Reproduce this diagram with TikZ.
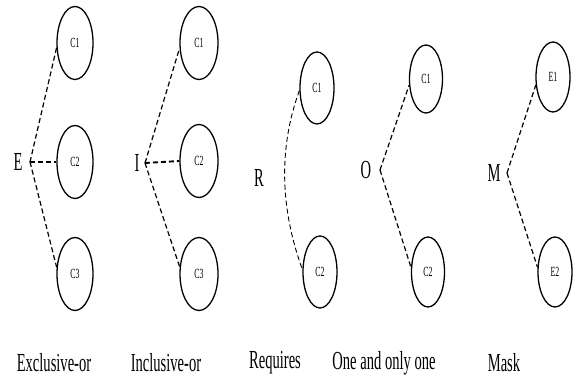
\documentclass[tikz,border=0pt]{standalone}
\usepackage{fontspec}
\usepackage{graphicx}
\setmainfont{Liberation Serif}
\usetikzlibrary{shapes.geometric}
\newcommand\cnd[1]{\scalebox{0.56}[1]{#1}}
\tikzset{
  feat/.style={ellipse, draw=black, line width=1.3pt, inner sep=0pt, minimum width=36pt, minimum height=73pt, font=\fontsize{14}{14}\selectfont},
  lbl/.style={inner sep=0pt, font=\fontsize{26}{26}\selectfont},
  captxt/.style={inner sep=0pt, font=\fontsize{26}{26}\selectfont},
  conn/.style={draw=black, line width=1.2pt, dash pattern=on 5pt off 3pt}
}
\begin{document}
\begin{tikzpicture}[x=1pt,y=1pt]
\useasboundingbox (0,0) rectangle (576,385);
% Exclusive-or
\node[lbl] (el) at (18,223) {\cnd{E}};
\coordinate (ev) at (30,223);
\node[feat] (e1) at (75,342) {\cnd{C1}};
\node[feat] (e2) at (75,223) {\cnd{C2}};
\node[feat] (e3) at (75,111) {\cnd{C3}};
\draw[conn] (ev) -- (e1.195);
\draw[conn, line width=1.6pt] (ev) -- (e2.west);
\draw[conn] (ev) -- (e3.160);
% Inclusive-or
\node[lbl] (il) at (137,222) {\cnd{I}};
\coordinate (iv) at (145,222);
\node[feat, minimum width=38pt] (i1) at (199,342) {\cnd{C1}};
\node[feat, minimum width=38pt] (i2) at (199,224) {\cnd{C2}};
\node[feat, minimum width=38pt] (i3) at (199,111) {\cnd{C3}};
\draw[conn] (iv) -- (i1.195);
\draw[conn, line width=1.9pt] (iv) -- (i2.west);
\draw[conn] (iv) -- (i3.160);
% Requires
\node[lbl] (rl) at (259,207) {\cnd{R}};
\node[feat, minimum width=34pt, minimum height=72pt] (r1) at (317,297) {\cnd{C1}};
\node[feat, minimum width=34pt, minimum height=72pt] (r2) at (320,113) {\cnd{C2}};
\draw[conn, line width=0.9pt] (r1.188) to[out=250, in=110, looseness=0.9] (r2.172);
% One and only one
\node[lbl] (ol) at (366,215) {\cnd{O}};
\coordinate (ov) at (380,215);
\node[feat, minimum width=33pt, minimum height=68pt] (o1) at (426,306) {\cnd{C1}};
\node[feat, minimum width=33pt, minimum height=70pt] (o2) at (428,113) {\cnd{C2}};
\draw[conn] (ov) -- (o1.200);
\draw[conn] (ov) -- (o2.165);
% Mask
\node[lbl] (ml) at (494,212) {\cnd{M}};
\coordinate (mv) at (507,212);
\node[feat, minimum width=34pt, minimum height=70pt] (m1) at (553,308) {\cnd{E1}};
\node[feat, minimum width=34pt, minimum height=70pt] (m2) at (555,113) {\cnd{E2}};
\draw[conn] (mv) -- (m1.205);
\draw[conn] (mv) -- (m2.165);
% captions
\node[captxt] (c1) at (54,22) {\cnd{Exclusive-or}};
\node[captxt] (c2) at (166,22) {\cnd{Inclusive-or}};
\node[captxt] (c3) at (275,22) {\cnd{Requires}};
\node[captxt] (c4) at (384,22) {\cnd{One and only one}};
\node[captxt] (c5) at (504,22) {\cnd{Mask}};
\end{tikzpicture}
\end{document}
